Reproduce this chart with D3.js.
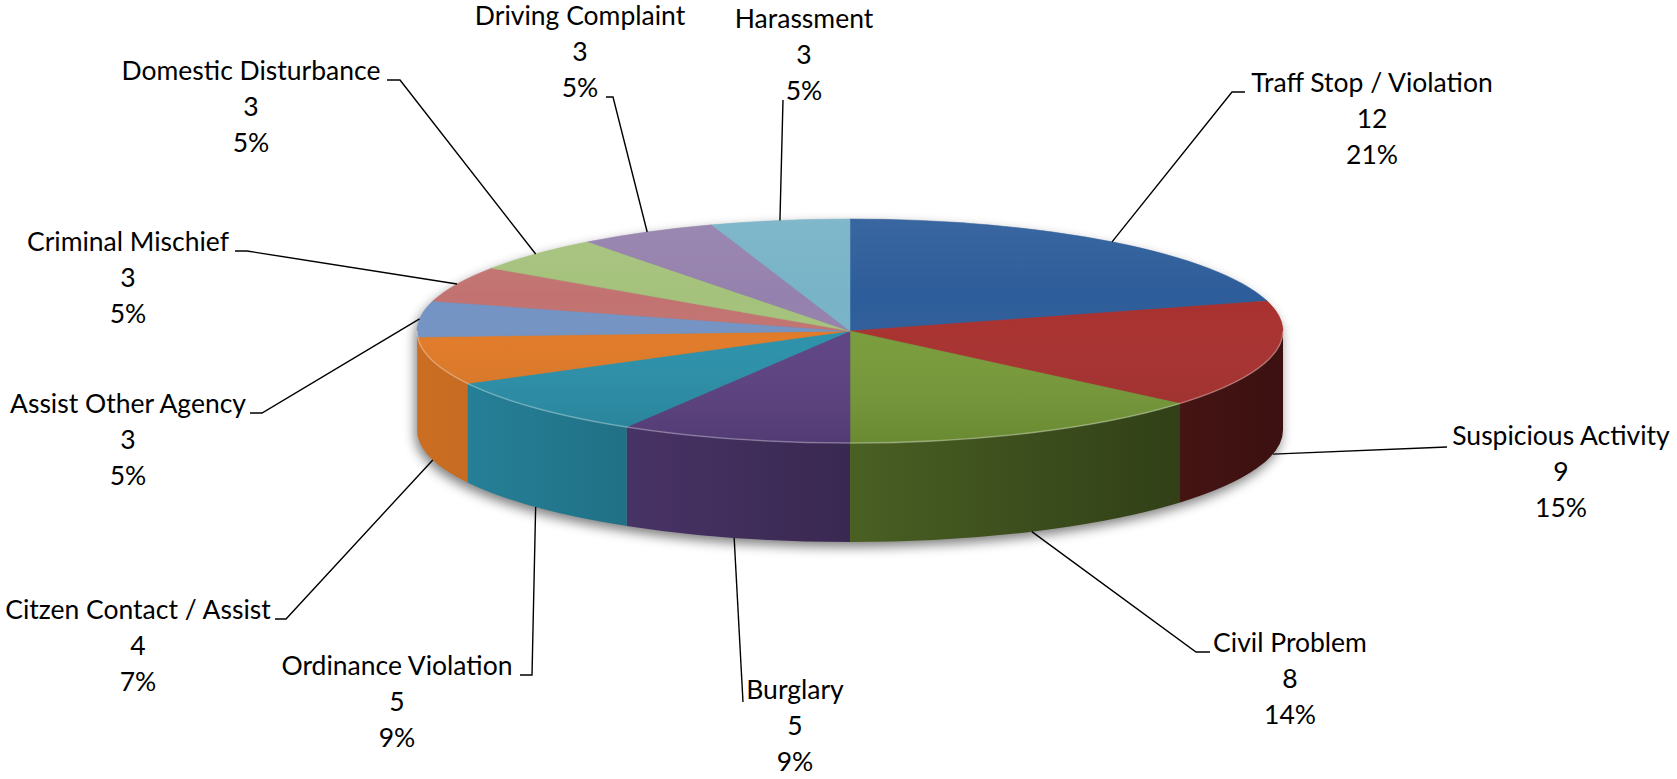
<!DOCTYPE html>
<html>
<head>
<meta charset="utf-8">
<script src="https://cdn.jsdelivr.net/npm/d3@7"></script>
<style>
  html, body { margin: 0; padding: 0; background: #fff; }
  svg { display: block; }
  .labels text { font-family: Lato, "Open Sans", sans-serif; font-size: 26.5px; fill: #000; }
</style>
</head>
<body>
<div id="chart"></div>
<script>
// Data
const categories = ['Traff Stop / Violation', 'Suspicious Activity', 'Civil Problem', 'Burglary',
  'Ordinance Violation', 'Citzen Contact / Assist', 'Assist Other Agency', 'Criminal Mischief',
  'Domestic Disturbance', 'Driving Complaint', 'Harassment']
const counts = [12, 9, 8, 5, 5, 4, 3, 3, 3, 3, 3]
const percentLabels = ['21%', '15%', '14%', '9%', '9%', '7%', '5%', '5%', '5%', '5%', '5%']

// top face colours, one per slice
const colors = ['#2d5d9a', '#a8302e', '#789c39', '#5d4283', '#2a91ab', '#e27a26',
  '#7393c4', '#c27371', '#a5c27c', '#9581ad', '#78b3c7']

// where each label sits: text centre, first baseline, leader elbow and stub
const labelLayout = [
  { x: 1372, y: 92, ex: 1232, ey: 92, stub: 13 },
  { x: 1561, y: 445, ex: 1447, ey: 447, stub: 0 },
  { x: 1290, y: 652, ex: 1196, ey: 652, stub: 14 },
  { x: 795, y: 699, ex: 743, ey: 702, stub: 0 },
  { x: 397, y: 675, ex: 532, ey: 675, stub: -12 },
  { x: 138, y: 619, ex: 286, ey: 619, stub: -11 },
  { x: 128, y: 413, ex: 262, ey: 413, stub: -12 },
  { x: 128, y: 251, ex: 247, ey: 251, stub: -12 },
  { x: 251, y: 80, ex: 400, ey: 80, stub: -13 },
  { x: 580, y: 25, ex: 613, ey: 97, stub: -7 },
  { x: 804, y: 28, ex: 783, ey: 100, stub: 0 },
]

const dimensions = { width: 1677, height: 779 }
const pieGeo = { cx: 850, cy: 331, rx: 433, ry: 112, depth: 99 }
const lineHeight = 36

const { cx, cy, rx, ry, depth } = pieGeo
const px = a => cx + rx * Math.sin(a)
const py = a => cy - ry * Math.cos(a)

const svg = d3.select('#chart')
  .append('svg')
  .attr('width', dimensions.width)
  .attr('height', dimensions.height)

const defs = svg.append('defs')

const pie = d3.pie().value(d => d).sort(null)
const slices = pie(counts)

// side shading gets darker from left to right
const shadeAt = x => {
  const t = Math.max(0, Math.min(1, (x - (cx - rx)) / (2 * rx)))
  return 0.3 + 2.6 * Math.pow(t, 1.3)
}

// SHADOW
const blur = defs.append('filter')
  .attr('id', 'shadow')
  .attr('x', '-10%').attr('y', '-20%')
  .attr('width', '120%').attr('height', '140%')
blur.append('feGaussianBlur').attr('stdDeviation', 6)

svg.append('path')
  .attr('d', `M${cx - rx},${cy} A${rx},${ry} 0 0 1 ${cx + rx},${cy} L${cx + rx},${cy + depth} A${rx},${ry} 0 0 1 ${cx - rx},${cy + depth} Z`)
  .attr('transform', 'translate(-2, 5)')
  .attr('fill', '#000')
  .attr('opacity', 0.5)
  .attr('filter', 'url(#shadow)')

// SIDES
const sides = slices.map((d, i) => {
  const a0 = Math.max(d.startAngle, Math.PI / 2)
  const a1 = Math.min(d.endAngle, Math.PI * 1.5)
  return { d, i, a0, a1 }
}).filter(s => s.a1 > s.a0)

sides.forEach(s => {
  const xRight = px(s.a0)
  const xLeft = px(s.a1)
  const grad = defs.append('linearGradient')
    .attr('id', `side-${s.i}`)
    .attr('gradientUnits', 'userSpaceOnUse')
    .attr('x1', xLeft).attr('x2', xRight)
    .attr('y1', 0).attr('y2', 0)
  d3.range(7).forEach(k => {
    const t = k / 6
    const x = xLeft + (xRight - xLeft) * t
    grad.append('stop')
      .attr('offset', t)
      .attr('stop-color', d3.color(colors[s.i]).darker(shadeAt(x)).formatHex())
  })
})

svg.append('g')
  .selectAll('path')
  .data(sides)
  .join('path')
  .attr('d', s => `M${px(s.a0)},${py(s.a0)} A${rx},${ry} 0 0 1 ${px(s.a1)},${py(s.a1)} L${px(s.a1)},${py(s.a1) + depth} A${rx},${ry} 0 0 0 ${px(s.a0)},${py(s.a0) + depth} Z`)
  .attr('fill', s => `url(#side-${s.i})`)

// TOP
const topPath = d => {
  const large = d.endAngle - d.startAngle > Math.PI ? 1 : 0
  return `M${cx},${cy} L${px(d.startAngle)},${py(d.startAngle)} A${rx},${ry} 0 ${large} 1 ${px(d.endAngle)},${py(d.endAngle)} Z`
}

svg.append('g')
  .selectAll('path')
  .data(slices)
  .join('path')
  .attr('d', topPath)
  .attr('fill', (d, i) => colors[i])
  .attr('stroke', (d, i) => colors[i])
  .attr('stroke-width', 0.5)

// soft light over the top face, darker toward the front
const topLight = defs.append('linearGradient')
  .attr('id', 'top-light')
  .attr('x1', 0).attr('x2', 0).attr('y1', 0).attr('y2', 1)
topLight.append('stop').attr('offset', 0).attr('stop-color', '#fff').attr('stop-opacity', 0.06)
topLight.append('stop').attr('offset', 0.35).attr('stop-color', '#fff').attr('stop-opacity', 0)
topLight.append('stop').attr('offset', 1).attr('stop-color', '#000').attr('stop-opacity', 0.12)

svg.append('ellipse')
  .attr('cx', cx).attr('cy', cy)
  .attr('rx', rx).attr('ry', ry)
  .attr('fill', 'url(#top-light)')

// bevel highlight along the front rim
svg.append('path')
  .attr('d', `M${cx + rx},${cy} A${rx},${ry} 0 0 1 ${cx - rx},${cy}`)
  .attr('fill', 'none')
  .attr('stroke', '#fff')
  .attr('stroke-opacity', 0.3)
  .attr('stroke-width', 1.5)

// LEADER LINES
const leaders = svg.append('g')
  .attr('fill', 'none')
  .attr('stroke', '#000')
  .attr('stroke-width', 1.4)

leaders.selectAll('polyline')
  .data(slices)
  .join('polyline')
  .attr('points', (d, i) => {
    const mid = (d.startAngle + d.endAngle) / 2
    const front = Math.cos(mid) < 0
    const l = labelLayout[i]
    const pts = [[px(mid), py(mid) + (front ? depth : 0)], [l.ex, l.ey]]
    if (l.stub) pts.push([l.ex + l.stub, l.ey])
    return pts.map(p => p.join(',')).join(' ')
  })

// LABELS
const labels = svg.append('g')
  .classed('labels', true)
  .selectAll('text')
  .data(slices)
  .join('text')
  .attr('text-anchor', 'middle')
  .attr('transform', (d, i) => `translate(${labelLayout[i].x}, ${labelLayout[i].y})`)

labels.append('tspan')
  .attr('x', 0).attr('y', 0)
  .text((d, i) => categories[i])
labels.append('tspan')
  .attr('x', 0).attr('y', lineHeight)
  .text(d => d.data)
labels.append('tspan')
  .attr('x', 0).attr('y', lineHeight * 2)
  .text((d, i) => percentLabels[i])
</script>
</body>
</html>
